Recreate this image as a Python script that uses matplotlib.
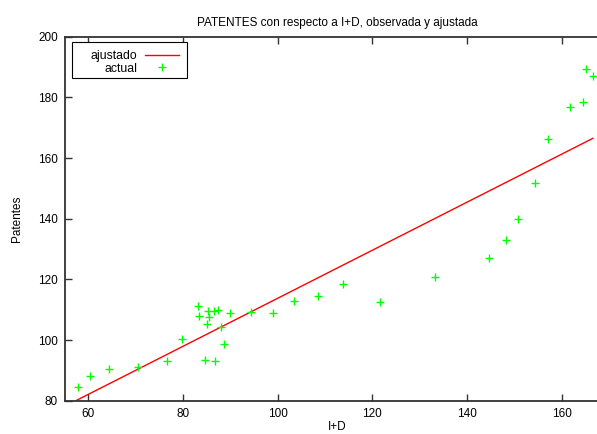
import matplotlib
matplotlib.use("Agg")
import matplotlib.pyplot as plt
from matplotlib.patches import Rectangle

plt.rcParams['font.family'] = ['Liberation Sans', 'DejaVu Sans']

# Observed data (I+D, PATENTES)
id_values = [57.8, 60.4, 64.3, 70.5, 76.7, 79.8, 83.1, 83.3, 84.7, 85.0,
             85.2, 85.4, 86.6, 86.7, 87.3, 88.1, 88.7, 90.0, 94.3, 99.1,
             103.5, 108.6, 113.9, 121.6, 133.2, 144.6, 148.2, 150.8, 154.3,
             157.1, 161.7, 164.5, 165.2, 166.6]
patentes = [84.5, 88.1, 90.3, 91.0, 93.2, 100.3, 111.1, 108.0, 93.5, 105.3,
            109.5, 107.5, 109.6, 93.0, 110.0, 104.4, 98.7, 108.9, 109.2, 108.9,
            113.0, 114.5, 118.4, 112.4, 120.7, 127.0, 133.0, 139.8, 151.9,
            166.3, 176.7, 178.4, 189.3, 187.1]

# Fitted line endpoints
fit_x = [57.6, 166.6]
fit_y = [80.2, 166.5]

x_ticks = [60, 80, 100, 120, 140, 160]
y_ticks = [80, 100, 120, 140, 160, 180, 200]

title = "PATENTES con respecto a I+D, observada y ajustada"

W, H = 597, 434
fig = plt.figure(figsize=(W / 100, H / 100), dpi=100)
ax = fig.add_axes([64.7 / W, 1 - 400.7 / H, (609 - 64.7) / W, (400.7 - 36.7) / H])

ax.plot(fit_x, fit_y, color='#ff0000', lw=1.0, label='ajustado')
ax.plot(id_values, patentes, linestyle='none', marker='+', color='#00ff00',
        markersize=5.5, markeredgewidth=1.0, label='actual')

ax.set_xlim(55, 170)
ax.set_ylim(80, 200)
ax.set_xticks(x_ticks)
ax.set_yticks(y_ticks)
ax.tick_params(direction='in', length=5, width=1, labelsize=8.5, pad=5,
               top=True, right=True, color='#333333')
for s in ax.spines.values():
    s.set_linewidth(1.3)
    s.set_color('#333333')

ax.set_title(title, fontsize=8.5, pad=8)
ax.set_xlabel('I+D', fontsize=8.5, labelpad=1)
ax.set_ylabel('Patentes', fontsize=8.5, labelpad=11)

# legend frame (gnuplot style, wide left padding)
frame = Rectangle((72 / W, 1 - 78 / H), (187 - 72) / W, (78 - 42) / H,
                  transform=fig.transFigure, fill=True, facecolor='white',
                  edgecolor='black', lw=0.8, clip_on=False, zorder=4)
ax.add_patch(frame)
leg = ax.legend(loc='upper right', bbox_to_anchor=(179 / W, 1 - 50.5 / H),
                bbox_transform=fig.transFigure, markerfirst=False, fontsize=8.8,
                frameon=False, borderpad=0, labelspacing=0.0,
                handlelength=2.8, handletextpad=0.6, borderaxespad=0)
leg.set_zorder(6)

fig.savefig('out.png', dpi=100)
